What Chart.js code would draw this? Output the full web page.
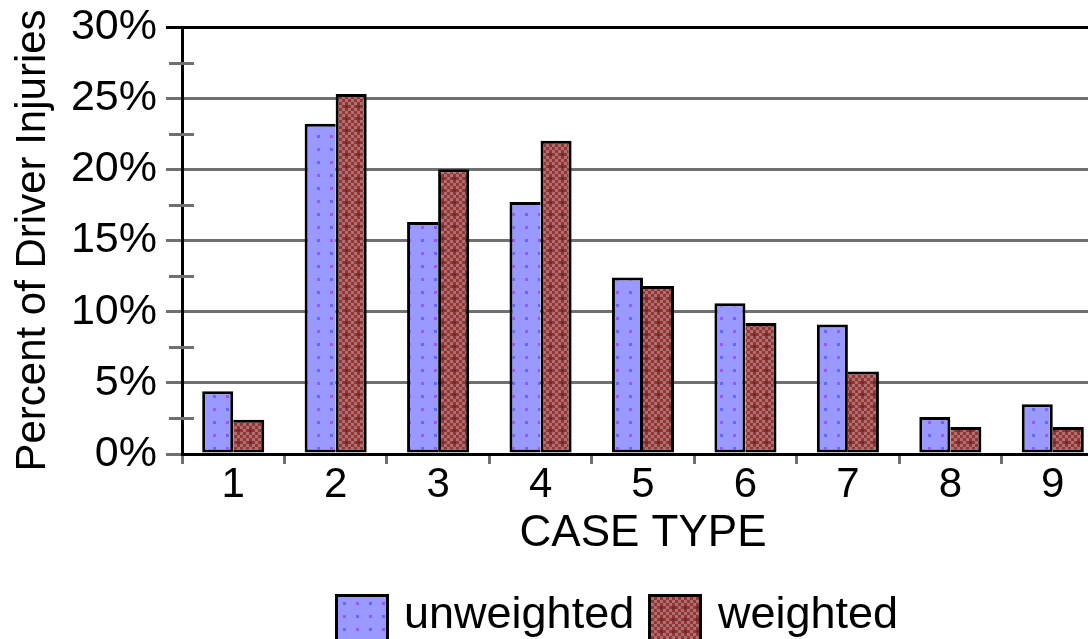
<!DOCTYPE html>
<html>
<head>
<meta charset="utf-8">
<script src="https://cdn.jsdelivr.net/npm/chart.js@4/dist/chart.umd.min.js"></script>
<style>
  html, body { margin: 0; padding: 0; background: #fff; overflow: hidden; }
  #wrap { position: relative; width: 1088px; height: 639px; overflow: hidden; }
  #chartBox { position: absolute; left: 0; top: 0; width: 1104px; height: 639px; }
  .legend-box { position: absolute; top: 594px; width: 48px; height: 50px; border: 3px solid #000; }
  .legend-text { position: absolute; top: 590px; font-family: "Liberation Sans", Arial, sans-serif; font-size: 45px; line-height: 45px; color: #000; }
</style>
</head>
<body>
<div id="wrap">
  <div id="chartBox"><canvas id="chart" width="1104" height="639"></canvas></div>
  <div class="legend-box" id="swatchU" style="left:335px;"></div>
  <div class="legend-text" style="left:404px;">unweighted</div>
  <div class="legend-box" id="swatchW" style="left:648px;"></div>
  <div class="legend-text" style="left:718px;">weighted</div>
</div>
<script>
// Chart data
const caseTypes = ["1", "2", "3", "4", "5", "6", "7", "8", "9"];
const unweighted = [4.4, 23.2, 16.3, 17.7, 12.4, 10.6, 9.1, 2.6, 3.5];
const weighted = [2.4, 25.3, 20.0, 22.0, 11.8, 9.2, 5.8, 1.9, 1.9];
const minorTicks = [2.5, 7.5, 12.5, 17.5, 22.5, 27.5];

const FONT = '"Liberation Sans", Arial, sans-serif';

function makeDotPattern() {
  const c = document.createElement("canvas");
  c.width = 26;
  c.height = 26;
  const g = c.getContext("2d");
  g.fillStyle = "#9999ff";
  g.fillRect(0, 0, 26, 26);
  g.fillStyle = "#6666ff";
  g.fillRect(5, 5, 3, 3);
  g.fillRect(18, 18, 3, 3);
  g.fillStyle = "#9955ff";
  g.fillRect(18, 5, 3, 3);
  g.fillRect(5, 18, 3, 3);
  return c;
}

function makeCheckPattern() {
  const c = document.createElement("canvas");
  c.width = 12;
  c.height = 12;
  const g = c.getContext("2d");
  g.fillStyle = "#993333";
  g.fillRect(0, 0, 12, 12);
  g.fillStyle = "#a87272";
  g.fillRect(0, 0, 3, 3);
  g.fillRect(6, 0, 3, 3);
  g.fillRect(3, 3, 3, 3);
  g.fillRect(9, 3, 3, 3);
  g.fillRect(0, 6, 3, 3);
  g.fillRect(6, 6, 3, 3);
  g.fillRect(3, 9, 3, 3);
  g.fillStyle = "#6a3030";
  g.fillRect(9, 9, 3, 3);
  return c;
}

const dotCanvas = makeDotPattern();
const checkCanvas = makeCheckPattern();
const ctx = document.getElementById("chart").getContext("2d");
const dotPattern = ctx.createPattern(dotCanvas, "repeat");
const checkPattern = ctx.createPattern(checkCanvas, "repeat");

document.getElementById("swatchU").style.background = "url(" + dotCanvas.toDataURL() + ")";
document.getElementById("swatchW").style.background = "url(" + checkCanvas.toDataURL() + ")";

// shared border between the two bars of a pair
function borderU(c) {
  const i = c.dataIndex;
  return { top: 3, left: 3, bottom: 3, right: weighted[i] >= unweighted[i] ? 0 : 3 };
}
function borderW(c) {
  const i = c.dataIndex;
  return { top: 3, right: 3, bottom: 3, left: weighted[i] >= unweighted[i] ? 3 : 0 };
}

const minorTickPlugin = {
  id: "minorTicks",
  afterDraw(chart) {
    const y = chart.scales.y;
    const g = chart.ctx;
    g.save();
    g.strokeStyle = "#707070";
    g.lineWidth = 3;
    minorTicks.forEach((v) => {
      const py = Math.round(y.getPixelForValue(v)) + 0.5;
      g.beginPath();
      g.moveTo(169, py);
      g.lineTo(194, py);
      g.stroke();
    });
    g.restore();
  },
};

new Chart(ctx, {
  type: "bar",
  data: {
    labels: caseTypes,
    datasets: [
      {
        label: "unweighted",
        data: unweighted,
        backgroundColor: dotPattern,
        borderColor: "#000",
        borderWidth: borderU,
        borderSkipped: false,
      },
      {
        label: "weighted",
        data: weighted,
        backgroundColor: checkPattern,
        borderColor: "#000",
        borderWidth: borderW,
        borderSkipped: false,
      },
    ],
  },
  options: {
    responsive: false,
    animation: false,
    layout: {
      padding: { top: 27, right: 0, bottom: 83, left: 0 },
    },
    plugins: {
      legend: { display: false },
      tooltip: { enabled: false },
    },
    datasets: {
      bar: {
        categoryPercentage: 0.606,
        barPercentage: 1.0,
      },
    },
    scales: {
      x: {
        afterFit(scale) {
          scale.paddingLeft = 0;
          scale.paddingRight = 0;
        },
        grid: {
          offset: true,
          drawOnChartArea: false,
          color: "#707070",
          lineWidth: 3,
          tickLength: 10,
        },
        border: { color: "#000", width: 3 },
        ticks: {
          color: "#000",
          padding: 0,
          font: { family: FONT, size: 42, lineHeight: 1.0 },
        },
        title: {
          display: true,
          text: "CASE TYPE",
          color: "#000",
          padding: { top: 6, bottom: 0 },
          font: { family: FONT, size: 44, lineHeight: 1.0 },
        },
      },
      y: {
        min: 0,
        max: 30,
        afterFit(scale) {
          scale.width = 182;
          scale.paddingTop = 0;
          scale.paddingBottom = 0;
        },
        grid: {
          color: (c) => (c.tick && c.tick.value === 30 ? "#000" : "#707070"),
          lineWidth: 3,
          tickLength: 16,
        },
        border: { color: "#000", width: 3 },
        ticks: {
          stepSize: 5,
          color: "#000",
          padding: 9,
          font: { family: FONT, size: 43, lineHeight: 1.0 },
          callback: (v) => v + "%",
        },
        title: {
          display: true,
          text: "Percent of Driver Injuries",
          color: "#000",
          padding: { top: 8, bottom: 0 },
          font: { family: FONT, size: 42 },
        },
      },
    },
  },
  plugins: [minorTickPlugin],
});
</script>
</body>
</html>
